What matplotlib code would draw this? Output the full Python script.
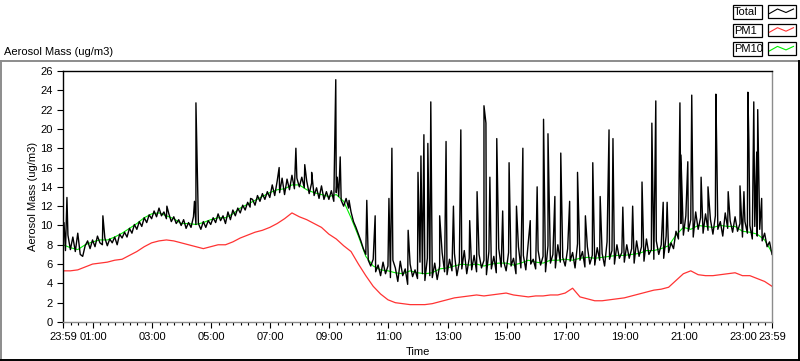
import matplotlib
matplotlib.use("Agg")
import matplotlib.pyplot as plt
import numpy as np
from matplotlib.patches import Rectangle

plt.rcParams['font.family'] = ['Liberation Sans', 'DejaVu Sans']
plt.rcParams['font.size'] = 8

# Total, 5-minute samples starting at 23:59 (one row per hour)
total_base = [
    8.6, 7.4, 9.0, 7.5, 8.8, 7.3, 9.2, 7.0, 6.8, 7.9, 8.4, 7.6,
    8.5, 7.8, 8.9, 8.2, 8.0, 8.7, 7.9, 8.6, 8.2, 8.8, 8.0, 9.1,
    8.7, 9.3, 8.8, 9.7, 9.2, 10.1, 9.6, 10.4, 9.9, 10.8, 10.3, 11.1,
    10.7, 11.5, 10.9, 11.8, 11.0, 11.4, 10.7, 11.2, 10.4, 10.9, 10.2, 10.6,
    10.0, 10.6, 9.7, 10.3, 9.8, 10.9, 10.1, 10.2, 9.6, 10.4, 9.8, 10.5,
    10.1, 10.8, 10.3, 11.2, 10.5, 11.0, 10.2, 11.4, 10.6, 11.6, 11.0, 11.8,
    11.3, 12.1, 11.6, 12.4, 11.9, 12.7, 12.1, 13.1, 12.5, 13.3, 12.7, 13.5,
    12.9, 14.2, 13.1, 14.6, 13.4, 14.9, 13.2, 14.8, 13.7, 15.2, 13.8, 14.9,
    14.0, 15.0, 13.9, 14.6, 13.3, 14.4, 13.1, 13.9, 12.8, 14.1, 12.7, 13.5,
    12.7, 13.6, 12.5, 13.4, 13.0, 12.6, 12.0, 12.8, 11.8, 11.4, 10.4, 9.8,
    9.1, 8.4, 7.6, 7.0, 6.4, 5.8, 6.5, 5.2, 5.9, 4.8, 6.2, 5.0,
    5.8, 4.6, 6.4, 5.6, 4.2, 6.3, 4.8, 5.5, 3.9, 6.0, 4.7, 5.4,
    4.5, 6.2, 5.0, 4.3, 6.6, 4.8, 4.6, 6.1, 4.4, 5.8, 7.2, 5.2,
    4.9, 6.5, 5.3, 7.1, 4.8, 6.2, 5.5, 7.4, 5.0, 6.6, 5.4, 6.9,
    5.2, 7.0, 5.6, 6.4, 4.9, 7.3, 5.5, 6.8, 5.1, 7.6, 5.7, 6.3,
    5.3, 7.2, 5.8, 6.6, 5.0, 7.8, 5.6, 6.9, 5.4, 8.2, 6.0, 6.5,
    5.5, 7.4, 5.9, 6.8, 5.2, 7.9, 6.1, 7.0, 5.6, 8.0, 6.2, 6.7,
    5.8, 7.6, 6.3, 7.2, 5.6, 8.1, 6.4, 7.3, 5.7, 7.8, 6.0, 6.9,
    5.9, 7.7, 6.4, 7.1, 5.8, 8.3, 6.5, 7.4, 6.0, 8.0, 6.6, 7.2,
    6.2, 8.0, 6.6, 7.6, 6.1, 8.4, 6.8, 7.8, 6.3, 8.6, 7.0, 7.5,
    6.5, 8.4, 7.0, 8.0, 6.6, 8.9, 7.2, 8.2, 7.6, 9.4, 8.6, 10.2,
    9.0, 11.0, 9.4, 10.6, 8.8, 11.4, 9.6, 10.8, 9.2, 11.2, 9.5, 10.6,
    9.1, 11.0, 9.6, 10.4, 8.9, 11.3, 9.7, 10.5, 9.3, 10.9, 9.4, 10.2,
    8.8, 10.4, 9.2, 10.0, 8.6, 9.9, 8.9, 9.6, 8.4, 9.2, 7.8, 8.3,
    7.0,
]

# short spikes in Total (clock time, value)
spike_times = [
    "00:01", "00:07", "01:20", "03:30", "04:26", "04:29", "06:20", "07:18",
    "07:52", "08:10", "08:24", "09:13", "09:16", "09:22", "09:40", "10:16",
    "10:33", "11:01", "11:07", "11:40", "12:00", "12:06", "12:12", "12:20",
    "12:26", "12:44", "12:57", "13:12", "13:27", "13:45", "14:00", "14:14",
    "14:18", "14:26", "14:40", "14:52", "15:05", "15:20", "15:33", "15:48",
    "16:02", "16:15", "16:24", "16:38", "16:50", "17:08", "17:24", "17:40",
    "17:55", "18:10", "18:28", "18:36", "18:56", "19:16", "19:35", "19:55",
    "20:03", "20:18", "20:26", "20:52", "20:54", "21:08", "21:16", "21:35",
    "21:49", "22:05", "22:07", "22:30", "22:54", "23:02", "23:10", "23:12",
    "23:22", "23:28", "23:30", "23:38",
]
spike_values = [
    10.3, 12.9, 11.0, 12.0, 12.5, 22.7, 12.8, 16.0,
    18.0, 16.3, 15.5, 25.1, 15.0, 17.1, 12.6, 12.6,
    11.0, 12.8, 18.0, 9.5, 15.5, 17.2, 19.4, 18.5,
    22.8, 11.0, 18.7, 12.0, 19.9, 10.5, 13.5, 22.4,
    20.6, 15.0, 19.0, 11.5, 16.5, 12.0, 18.0, 10.5,
    14.0, 21.0, 19.5, 13.0, 17.5, 12.5, 15.5, 11.0,
    16.5, 13.0, 19.9, 19.0, 11.9, 12.0, 14.5, 20.6,
    22.9, 12.4, 12.4, 22.7, 17.3, 16.6, 23.5, 15.0,
    14.0, 23.6, 17.0, 13.5, 14.1, 13.5, 23.8, 18.8,
    22.8, 17.6, 22.0, 12.8,
]

# PM1 and PM10, 15-minute samples starting at 23:59
pm1 = [
    5.3, 5.3, 5.4, 5.7, 6.0, 6.1, 6.2, 6.4, 6.5, 6.9, 7.3, 7.8,
    8.2, 8.4, 8.5, 8.4, 8.2, 8.0, 7.8, 7.6, 7.8, 8.0, 8.0, 8.3,
    8.7, 9.0, 9.3, 9.5, 9.8, 10.2, 10.7, 11.3, 10.9, 10.6, 10.2, 9.8,
    9.1, 8.6, 7.9, 7.3, 6.0, 4.8, 3.7, 2.9, 2.3, 2.0, 1.9, 1.8,
    1.8, 1.8, 1.9, 2.1, 2.3, 2.5, 2.6, 2.7, 2.8, 2.7, 2.8, 2.9,
    3.0, 2.8, 2.7, 2.6, 2.7, 2.7, 2.8, 2.8, 3.0, 3.5, 2.6, 2.4,
    2.2, 2.2, 2.3, 2.4, 2.5, 2.7, 2.9, 3.1, 3.3, 3.4, 3.6, 4.3,
    5.0, 5.3, 4.9, 4.8, 4.8, 4.9, 5.0, 5.1, 4.8, 4.8, 4.5, 4.2,
    3.7,
]
pm10 = [
    8.0, 7.7, 7.5, 8.0, 8.3, 8.5, 8.5, 8.8, 9.2, 9.7, 10.2, 10.8,
    11.2, 11.3, 11.0, 10.7, 10.2, 10.2, 10.1, 10.3, 10.6, 10.8, 10.8, 11.2,
    11.8, 12.2, 12.6, 13.0, 13.4, 13.7, 13.8, 14.2, 14.2, 13.7, 13.4, 13.2,
    13.0, 13.2, 12.5, 10.8, 8.9, 6.8, 5.8, 5.4, 5.3, 5.1, 5.0, 5.3,
    5.1, 5.0, 5.1, 5.5, 5.6, 5.8, 6.0, 5.9, 6.0, 5.8, 6.0, 6.1,
    6.1, 5.9, 6.1, 6.4, 6.2, 6.1, 6.4, 6.4, 6.5, 6.4, 6.6, 6.7,
    6.6, 6.7, 6.8, 6.9, 6.9, 7.0, 7.1, 7.4, 7.4, 7.6, 7.9, 9.0,
    9.8, 9.6, 10.0, 9.9, 9.8, 10.0, 9.9, 9.9, 9.4, 9.3, 9.1, 8.5,
    7.2,
]

tick_labels = ["23:59", "01:00", "03:00", "05:00", "07:00", "09:00", "11:00",
               "13:00", "15:00", "17:00", "19:00", "21:00", "23:00", "23:59"]


def clock_to_min(s):
    # minutes after the 23:59 start of the record
    h, m = s.split(':')
    return int(h) * 60 + int(m) + 1


t_base = np.arange(len(total_base)) * 5.0
t_spk = np.array([clock_to_min(s) for s in spike_times], dtype=float)
t_all = np.concatenate([t_base, t_spk])
v_all = np.concatenate([total_base, spike_values])
order = np.argsort(t_all, kind='stable')
t_total, v_total = t_all[order], v_all[order]

t_15 = np.arange(len(pm1)) * 15.0

fig = plt.figure(figsize=(8, 3.61), dpi=100)

# background frame / legend layer in pixel coordinates
bg = fig.add_axes([0, 0, 1, 1], zorder=-1)
bg.set_xlim(0, 800)
bg.set_ylim(361, 0)
bg.axis('off')
bg.plot([0, 798], [61, 61], color='#8c8c8c', lw=1.4)
bg.plot([1, 1], [61, 360], color='#8c8c8c', lw=1.4)
bg.plot([0, 799], [359.5, 359.5], color='black', lw=1.4)
bg.plot([798.5, 798.5], [61, 360], color='black', lw=1.4)
bg.text(4, 52, "Aerosol Mass (ug/m3)", ha='left', va='center', fontsize=8)

leg_names = ["Total", "PM1", "PM10"]
leg_colors = ["black", "#ff3333", "#00ee00"]
for i, (name, col) in enumerate(zip(leg_names, leg_colors)):
    y0 = 5 + i * 18.7
    bg.add_patch(Rectangle((732.5, y0), 29.5, 13.5, fill=False, ec='black', lw=0.9))
    bg.add_patch(Rectangle((767.5, y0), 28.5, 12.5, fill=False, ec='black', lw=0.9))
    bg.text(734, y0 + 7, name, ha='left', va='center', fontsize=8)
    bg.plot([769.5, 777.5, 786, 793.5],
            [y0 + 8.5, y0 + 4, y0 + 7.5, y0 + 4], color=col, lw=0.8)

ax = fig.add_axes([63 / 800, 39 / 361, 709 / 800, 251 / 361])
ax.plot(t_15, pm10, color='#00ee00', lw=0.8)
ax.plot(t_total, v_total, color='black', lw=1.0)
ax.plot(t_15, pm1, color='#ff3333', lw=0.9)

ax.set_xlim(0, 1440)
ax.set_ylim(0, 26)
ax.set_yticks(np.arange(0, 27, 2))
major = [0] + [clock_to_min("%02d:00" % h) for h in range(1, 24, 2)] + [1440]
ax.set_xticks(major)
ax.set_xticklabels(tick_labels)
ax.set_xticks([clock_to_min("%02d:%02d" % (h, m)) for h in range(24) for m in (0, 15, 30, 45)],
              minor=True)
ax.tick_params(axis='y', length=4.5, width=0.8, pad=3)
ax.tick_params(axis='x', which='major', length=4, width=0.8, pad=3)
ax.tick_params(axis='x', which='minor', length=2.5, width=0.8)

ax.set_xlabel("Time", labelpad=4)
ax.set_ylabel("Aerosol Mass (ug/m3)", labelpad=1.5)

ax.spines['top'].set_color('black')
ax.spines['left'].set_color('black')
ax.spines['right'].set_color('#8c8c8c')
ax.spines['bottom'].set_color('#8c8c8c')
for sp in ax.spines.values():
    sp.set_linewidth(1.0)

fig.savefig("out.png", dpi=100)
